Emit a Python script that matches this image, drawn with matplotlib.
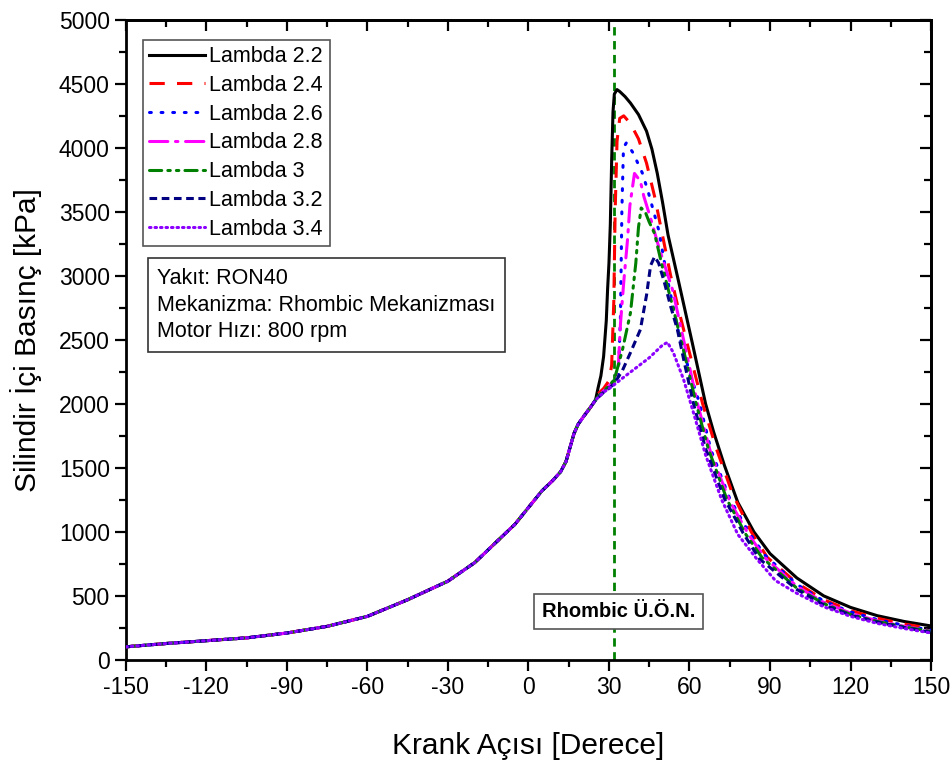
import matplotlib
matplotlib.use("Agg")
import matplotlib.pyplot as plt
from matplotlib.ticker import MultipleLocator

plt.rcParams["font.family"] = ["Liberation Sans", "DejaVu Sans"]
plt.rcParams["axes.unicode_minus"] = False

# ortak sıkıştırma bölgesi (tüm lambda değerleri için aynı)
ang_comp = [-150, -135, -120, -105, -90, -75, -60, -45, -30, -20, -10, -5, 0, 5, 9,
            12, 14, 15.5, 17, 18.5, 20.5, 23, 25]
p_comp = [102, 128, 150, 172, 210, 262, 340, 470, 615, 760, 960, 1060, 1190, 1320, 1400,
          1470, 1550, 1660, 1770, 1840, 1900, 1970, 2030]

ang_22 = [26, 27, 28, 29, 29.5, 30, 30.5, 31, 31.5, 32, 33, 34, 36, 38, 41, 44, 46, 48,
          50, 52, 56, 61, 66, 69, 73, 78, 84, 90, 100, 110, 120, 130, 140, 150]
p_22 = [2130, 2220, 2370, 2650, 2900, 3100, 3400, 3900, 4280, 4420, 4455, 4440, 4400, 4350,
        4260, 4130, 3990, 3800, 3570, 3320, 2950, 2480, 2000, 1780, 1520, 1230, 1000, 830,
        640, 500, 410, 345, 300, 265]

ang_24 = [26, 28, 30, 31, 31.8, 32.3, 33, 34, 35.5, 38, 41, 44, 47, 50, 53, 56, 60, 64.9,
          70, 76, 83, 89, 100, 110, 120, 130, 140, 150]
p_24 = [2080, 2120, 2180, 2300, 2800, 3500, 4050, 4230, 4250, 4190, 4070, 3880, 3620, 3310,
        3000, 2730, 2400, 2000, 1650, 1300, 1000, 800, 600, 470, 385, 325, 280, 245]

ang_26 = [26, 28, 30, 32, 33.5, 34.3, 34.8, 35.4, 36.5, 39, 42.5, 44.7, 48.5, 52, 56, 60,
          63.8, 68, 75, 82, 88, 100, 110, 120, 130, 140, 150]
p_26 = [2060, 2100, 2140, 2170, 2210, 2700, 3500, 4000, 4040, 3960, 3800, 3650, 3360, 2950,
        2550, 2250, 2000, 1640, 1260, 1000, 820, 590, 460, 375, 315, 270, 232]

ang_28 = [26, 28, 30, 32, 33.5, 34.3, 35.5, 36.9, 37.8, 39.5, 41.7, 43, 45.5, 48.5, 53.7,
          57.8, 63, 68, 75, 82, 88, 100, 110, 120, 130, 140, 150]
p_28 = [2060, 2100, 2140, 2180, 2300, 2630, 2950, 3280, 3550, 3800, 3740, 3620, 3450, 3230,
        2890, 2500, 2000, 1610, 1240, 980, 800, 575, 450, 365, 305, 262, 226]

ang_30 = [26, 28, 30, 32, 35, 38, 40, 41, 42, 43.5, 45, 47, 50, 54, 58, 62.5, 67, 74, 81,
          87, 100, 110, 120, 130, 140, 150]
p_30 = [2060, 2100, 2140, 2190, 2420, 2710, 3100, 3380, 3530, 3500, 3420, 3330, 3060, 2740,
        2400, 2000, 1650, 1250, 980, 800, 560, 440, 355, 300, 258, 222]

ang_32 = [26, 28, 30, 32, 35, 38, 41.7, 44, 45.5, 47, 48.5, 50.5, 53, 55.5, 58, 61.5, 66,
          73, 80, 86, 100, 110, 120, 130, 140, 150]
p_32 = [2050, 2090, 2120, 2160, 2260, 2400, 2580, 2850, 3080, 3150, 3100, 2960, 2760, 2580,
        2330, 2000, 1650, 1260, 990, 790, 550, 430, 350, 295, 253, 215]

ang_34 = [26, 28, 30, 32, 35, 40, 45, 48, 50, 51.8, 54, 57.8, 61.5, 66, 72, 78, 85, 92,
          100, 110, 120, 130, 140, 150]
p_34 = [2050, 2090, 2120, 2150, 2200, 2280, 2360, 2420, 2460, 2480, 2400, 2190, 1930, 1600,
        1250, 980, 790, 620, 520, 415, 340, 285, 245, 210]

labels = ["Lambda 2.2", "Lambda 2.4", "Lambda 2.6", "Lambda 2.8", "Lambda 3",
          "Lambda 3.2", "Lambda 3.4"]
series = [(ang_22, p_22), (ang_24, p_24), (ang_26, p_26), (ang_28, p_28),
          (ang_30, p_30), (ang_32, p_32), (ang_34, p_34)]
colors = ["#000000", "#ff0000", "#0000ff", "#ff00ff", "#008000", "#000080", "#8b00ff"]
styles = ["-", (0, (5, 4)), (0, (0.6, 3.2)), (0, (6, 2.5, 0.8, 2.5)),
          (0, (4, 2, 0.8, 2, 0.8, 2)), (0, (2.5, 1.5)), (0, (0.5, 1.3))]
caps = ["butt", "butt", "round", "round", "round", "butt", "round"]

tdc = 32  # Rhombic Ü.Ö.N.

fig = plt.figure(figsize=(9.53, 7.62), dpi=100)
ax = fig.add_axes([0.132, 0.134, 0.845, 0.840])

ax.axvline(tdc, color="#008000", linestyle=(0, (3, 2)), linewidth=2, zorder=1)

for (a, p), lab, c, ls, cap in zip(series, labels, colors, styles, caps):
    ax.plot(ang_comp + a, p_comp + p, color=c, linestyle=ls, linewidth=2.2,
            dash_capstyle=cap, label=lab, zorder=3)

ax.set_xlim(-150, 150)
ax.set_ylim(0, 5000)
ax.xaxis.set_major_locator(MultipleLocator(30))
ax.xaxis.set_minor_locator(MultipleLocator(15))
ax.yaxis.set_major_locator(MultipleLocator(500))
ax.yaxis.set_minor_locator(MultipleLocator(250))
ax.tick_params(which="both", direction="out", width=1.6, labelsize=16.5,
               top=False, right=False)
ax.tick_params(which="major", length=8)
ax.tick_params(which="minor", length=5)
for spine in ax.spines.values():
    spine.set_linewidth(2)

# üst ve sağ eksende içe dönük tikler
sec_x = ax.secondary_xaxis("top")
sec_x.xaxis.set_major_locator(MultipleLocator(30))
sec_x.xaxis.set_minor_locator(MultipleLocator(15))
sec_x.tick_params(which="both", direction="in", width=1.6, labeltop=False)
sec_x.tick_params(which="major", length=8)
sec_x.tick_params(which="minor", length=5)
sec_x.spines["top"].set_linewidth(2)
sec_y = ax.secondary_yaxis("right")
sec_y.yaxis.set_major_locator(MultipleLocator(500))
sec_y.yaxis.set_minor_locator(MultipleLocator(250))
sec_y.tick_params(which="both", direction="in", width=1.6, labelright=False)
sec_y.tick_params(which="major", length=8)
sec_y.tick_params(which="minor", length=5)
sec_y.spines["right"].set_linewidth(2)

ax.set_xlabel("Krank Açısı [Derece]", fontsize=21.5, labelpad=24)
ax.set_ylabel("Silindir İçi Basınç [kPa]", fontsize=21.5, labelpad=12)

leg = ax.legend(loc="upper left", bbox_to_anchor=(0.021, 0.969), fontsize=15.5,
                handlelength=2.6, handletextpad=0.2, labelspacing=0.36,
                borderpad=0.3, fancybox=False, framealpha=1, edgecolor="#555555",
                borderaxespad=0)
leg.get_frame().set_linewidth(1.2)

ax.text(0.039, 0.612, "Yakıt: RON40\nMekanizma: Rhombic Mekanizması\nMotor Hızı: 800 rpm",
        transform=ax.transAxes, fontsize=15.5, va="top", ha="left", linespacing=1.35,
        bbox=dict(boxstyle="square,pad=0.45", facecolor="white", edgecolor="#333333",
                  linewidth=1.2))

ax.text(tdc + 1.5, 375, "Rhombic Ü.Ö.N.", fontsize=14.5, fontweight="bold",
        ha="center", va="center", zorder=5,
        bbox=dict(boxstyle="square,pad=0.4", facecolor="white", edgecolor="#555555",
                  linewidth=1.2))

fig.savefig("out.png", dpi=100)
